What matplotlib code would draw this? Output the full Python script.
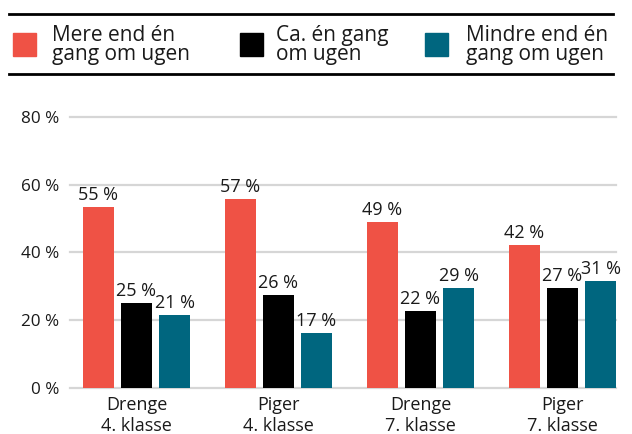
import matplotlib
matplotlib.use("Agg")
import matplotlib.pyplot as plt
from matplotlib.patches import Rectangle
from matplotlib.lines import Line2D
import numpy as np

plt.rcParams['font.family'] = ['Open Sans', 'DejaVu Sans']

categories = ["Drenge\n4. klasse", "Piger\n4. klasse", "Drenge\n7. klasse", "Piger\n7. klasse"]
series_names = ["Mere end én\ngang om ugen", "Ca. én gang\nom ugen", "Mindre end én\ngang om ugen"]
colors = ["#EF5245", "#000000", "#00667F"]
mere = [53.5, 55.8, 49.0, 42.2]
ca = [25.1, 27.4, 22.7, 29.5]
mindre = [21.5, 16.3, 29.5, 31.6]
mere_lbl = ["55 %", "57 %", "49 %", "42 %"]
ca_lbl = ["25 %", "26 %", "22 %", "27 %"]
mindre_lbl = ["21 %", "17 %", "29 %", "31 %"]
yticks = [0, 20, 40, 60, 80]
ytick_labels = ["0 %", "20 %", "40 %", "60 %", "80 %"]

W, H = 632, 434
fig = plt.figure(figsize=(W / 100, H / 100), dpi=100)
ax = fig.add_axes([70 / W, (H - 387.7) / H, (616 - 70) / W, (387.7 - 117.3) / H])

x = np.arange(len(categories))
width = 0.218
step = 0.268
series = [mere, ca, mindre]
labels = [mere_lbl, ca_lbl, mindre_lbl]
for i, (vals, lbls) in enumerate(zip(series, labels)):
    pos = x + (i - 1) * step
    bars = ax.bar(pos, vals, width=width, color=colors[i], zorder=3)
    for b, t in zip(bars, lbls):
        ax.annotate(t, (b.get_x() + b.get_width() / 2, b.get_height()),
                    xytext=(0, 5), textcoords='offset points', ha='center', va='baseline',
                    fontsize=13, color='#1a1a1a', annotation_clip=False)

ax.set_xlim(-0.468, 3.377)
ax.set_ylim(0, 80)
ax.set_yticks(yticks)
ax.set_yticklabels(ytick_labels, fontsize=12.3, color='#1a1a1a')
ax.set_xticks(x)
ax.set_xticklabels(categories, fontsize=13, color='#1a1a1a', linespacing=1.2)
ax.tick_params(axis='both', length=0)
ax.tick_params(axis='y', pad=8)
ax.tick_params(axis='x', pad=6)
for s in ax.spines.values():
    s.set_visible(False)
ax.grid(axis='y', color='#d6d6d6', linewidth=1.6, zorder=0)
ax.set_axisbelow(True)
for gl in ax.get_ygridlines():
    gl.set_clip_on(False)

# Legend block
fig.add_artist(Line2D([9 / W, 613 / W], [1 - 13.7 / H, 1 - 13.7 / H], color='black', lw=2, transform=fig.transFigure))
fig.add_artist(Line2D([9 / W, 613 / W], [1 - 74.3 / H, 1 - 74.3 / H], color='black', lw=2, transform=fig.transFigure))
sq_x = [12.7, 240, 425]
tx_x = [51.7, 276, 465.7]
for i in range(3):
    fig.add_artist(Rectangle((sq_x[i] / W, 1 - 55.7 / H), 23 / W, 22.7 / H, color=colors[i],
                             transform=fig.transFigure))
    fig.text(tx_x[i] / W, 1 - 60 / H, series_names[i], fontsize=15, color='#1a1a1a',
             ha='left', va='baseline', linespacing=0.88)

fig.savefig("out.png", dpi=100)
